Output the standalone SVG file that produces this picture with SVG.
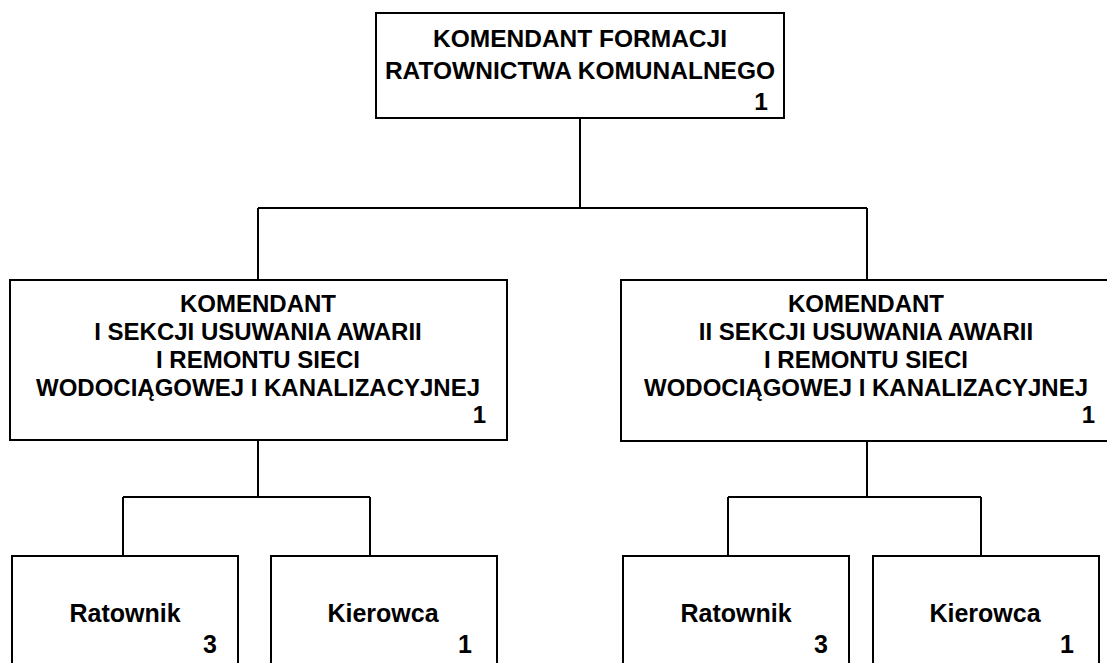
<svg xmlns="http://www.w3.org/2000/svg" width="1107" height="663" viewBox="0 0 1107 663">
<style>
.box{fill:#fff;stroke:#000;stroke-width:2}
.ln{fill:none;stroke:#000;stroke-width:2}
text{font-family:"Liberation Sans",Arial,sans-serif;font-weight:bold;fill:#000}
.t{font-size:24.5px;text-anchor:middle}
.m{font-size:24px;text-anchor:middle}
.b{font-size:25px;text-anchor:middle}
.n{text-anchor:end}
</style>
<rect width="1107" height="663" fill="#fff"/>
<g id="connectors">
<path class="ln" d="M580 118V208M258 208H867M258 208V280M867 208V280"/>
<path class="ln" d="M258 440V497M123 497H370M123 497V556M370 497V556"/>
<path class="ln" d="M867 441V497M728 497H981M728 497V556M981 497V556"/>
</g>
<g id="top">
<rect class="box" x="376" y="13" width="408" height="105"/>
<text class="t" x="580" y="47">KOMENDANT FORMACJI</text>
<text class="t" x="580" y="79">RATOWNICTWA KOMUNALNEGO</text>
<text class="t n" x="768" y="110">1</text>
</g>
<g id="sec1">
<rect class="box" x="10" y="280" width="497" height="160"/>
<text class="m" x="258" y="312">KOMENDANT</text>
<text class="m" x="258" y="340">I SEKCJI USUWANIA AWARII</text>
<text class="m" x="258" y="368">I REMONTU SIECI</text>
<text class="m" x="258" y="396">WODOCIĄGOWEJ I KANALIZACYJNEJ</text>
<text class="m n" x="486" y="423">1</text>
</g>
<g id="sec2">
<rect class="box" x="621" y="280" width="492" height="161"/>
<text class="m" x="866" y="312">KOMENDANT</text>
<text class="m" x="866" y="340">II SEKCJI USUWANIA AWARII</text>
<text class="m" x="866" y="368">I REMONTU SIECI</text>
<text class="m" x="866" y="396">WODOCIĄGOWEJ I KANALIZACYJNEJ</text>
<text class="m n" x="1095" y="423">1</text>
</g>
<g id="rat1">
<rect class="box" x="12" y="556" width="226" height="115"/>
<text class="b" x="125" y="622">Ratownik</text>
<text class="b n" x="217" y="653">3</text>
</g>
<g id="kier1">
<rect class="box" x="271" y="556" width="226" height="115"/>
<text class="b" x="383" y="622">Kierowca</text>
<text class="b n" x="472" y="653">1</text>
</g>
<g id="rat2">
<rect class="box" x="623" y="556" width="226" height="115"/>
<text class="b" x="736" y="622">Ratownik</text>
<text class="b n" x="828" y="653">3</text>
</g>
<g id="kier2">
<rect class="box" x="873" y="556" width="226" height="115"/>
<text class="b" x="985" y="622">Kierowca</text>
<text class="b n" x="1074" y="653">1</text>
</g>
</svg>
